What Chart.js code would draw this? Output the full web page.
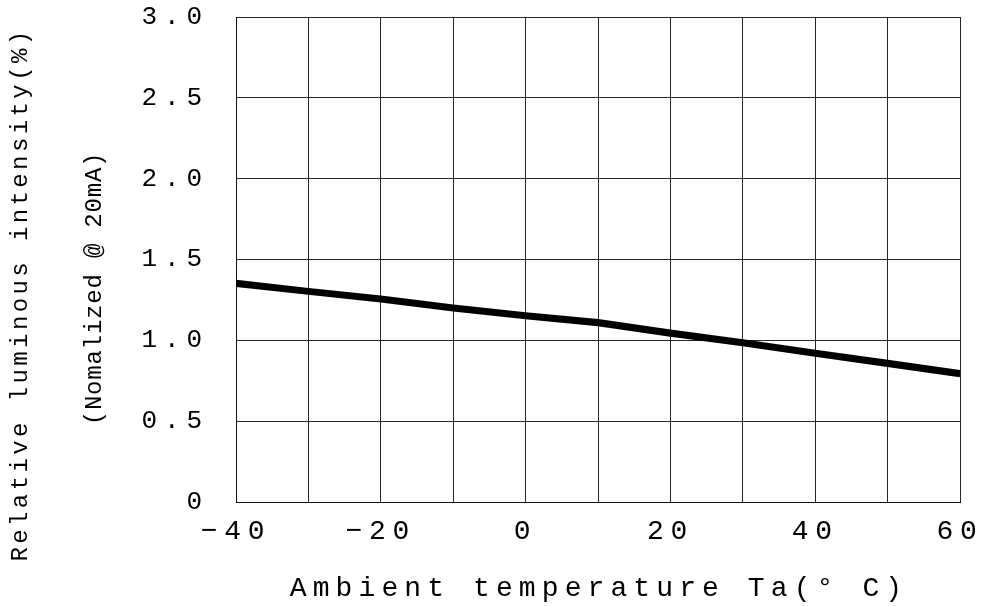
<!DOCTYPE html>
<html>
<head>
<meta charset="utf-8">
<script src="https://cdn.jsdelivr.net/npm/chart.js@4/dist/chart.umd.min.js"></script>
<style>
html,body{margin:0;padding:0;background:#fff;}
#wrap{width:982px;height:606px;}
</style>
</head>
<body>
<div id="wrap"><canvas id="c" width="982" height="606"></canvas></div>
<script>
// ---- data ----
const temperatures = [-40, -30, -20, -10, 0, 10, 20, 30, 40, 50, 60];
const intensityUpper = [1.362, 1.312, 1.265, 1.210, 1.162, 1.120, 1.055, 0.995, 0.930, 0.868, 0.804];
const intensityLower = [1.342, 1.294, 1.247, 1.190, 1.142, 1.100, 1.035, 0.975, 0.910, 0.848, 0.784];

const xTickValues = [-40, -20, 0, 20, 40, 60];
const xTickLabels = ['\u221240', '\u221220', '0', '20', '40', '60'];
const yTickValues = [0, 0.5, 1, 1.5, 2, 2.5, 3];
const yTickLabels = ['0', '0.5', '1.0', '1.5', '2.0', '2.5', '3.0'];

const xTitle = 'Ambient temperature Ta(\u00b0 C)';
const yTitle = 'Relative luminous intensity(%)';
const yTitleSub = '(Nomalized @ 20mA)';

// ---- text spacing helper (letter spacing + small offsets per scale part) ----
const textTweaks = {
  x:  { drawLabels: { ls: '6.7px' }, drawTitle: { ls: '6.1px', dx: 1, dy: 0 } },
  y:  { drawLabels: { ls: '6.9px' }, drawTitle: { ls: '0.8px', dx: 0, dy: 29 } },
  y2: { drawTitle: { ls: '3.4px', dx: 0, dy: 35 } }
};
function patchScale(scale, method, cfg) {
  const key = '__patched_' + method;
  if (!scale || scale[key]) return;
  const orig = scale[method];
  scale[method] = function () {
    const ctx = this.ctx;
    ctx.save();
    ctx.letterSpacing = cfg.ls || '0px';
    ctx.translate(cfg.dx || 0, cfg.dy || 0);
    const r = orig.apply(this, arguments);
    ctx.restore();
    return r;
  };
  scale[key] = true;
}
const spacingPlugin = {
  id: 'spacing',
  beforeDraw(chart) {
    Object.keys(textTweaks).forEach(id => {
      const s = chart.scales[id];
      Object.keys(textTweaks[id]).forEach(m => patchScale(s, m, textTweaks[id][m]));
    });
  }
};
const bgPlugin = {
  id: 'bg',
  beforeDraw(chart) {
    const c = chart.ctx;
    c.save(); c.fillStyle = '#fff'; c.fillRect(0, 0, chart.width, chart.height); c.restore();
  }
};

const mono = "'Liberation Mono', 'DejaVu Sans Mono', monospace";
const gridColor = '#262626';

new Chart(document.getElementById('c'), {
  type: 'line',
  data: {
    labels: temperatures,
    datasets: [
      {
        data: temperatures.map((t, i) => ({ x: t, y: intensityUpper[i] })),
        borderColor: '#000', borderWidth: 4, pointRadius: 0, tension: 0, fill: false
      },
      {
        data: temperatures.map((t, i) => ({ x: t, y: intensityLower[i] })),
        borderColor: '#000', borderWidth: 4, pointRadius: 0, tension: 0, fill: false
      }
    ]
  },
  options: {
    responsive: false,
    animation: false,
    devicePixelRatio: 1,
    layout: { padding: { top: 17, right: 22, left: 0, bottom: 0 } },
    plugins: { legend: { display: false }, tooltip: { enabled: false } },
    scales: {
      x: {
        type: 'linear',
        min: -40, max: 60,
        afterFit: s => { s.height = 104; },
        ticks: {
          stepSize: 10,
          autoSkip: false,
          maxRotation: 0,
          padding: 0,
          color: '#000',
          font: { family: mono, size: 28 },
          callback: v => { const i = xTickValues.indexOf(v); return i >= 0 ? xTickLabels[i] : ''; }
        },
        grid: { color: gridColor, lineWidth: 1, drawTicks: true, tickLength: 13, tickColor: 'rgba(0,0,0,0)' },
        border: { color: '#111', width: 1 },
        title: {
          display: true, text: xTitle, color: '#000',
          font: { family: mono, size: 28, lineHeight: 1.2 },
          padding: { top: 0, bottom: 1 }
        }
      },
      y: {
        type: 'linear',
        position: 'left',
        weight: 0,
        min: 0, max: 3,
        afterFit: s => { s.width = 176; },
        ticks: {
          stepSize: 0.5,
          padding: 0,
          color: '#000',
          font: { family: mono, size: 26 },
          callback: v => { const i = yTickValues.findIndex(t => Math.abs(t - v) < 1e-9); return i >= 0 ? yTickLabels[i] : ''; }
        },
        grid: { color: gridColor, lineWidth: 1, drawTicks: true, tickLength: 27, tickColor: 'rgba(0,0,0,0)' },
        border: { color: '#111', width: 1 },
        title: {
          display: true, text: yTitleSub, color: '#000',
          font: { family: mono, size: 24, lineHeight: 1.2 },
          padding: { top: 20, bottom: 0 }
        }
      },
      y2: {
        type: 'linear',
        position: 'left',
        weight: 1,
        min: 0, max: 3,
        afterFit: s => { s.width = 60; },
        ticks: { display: false },
        grid: { display: false, drawTicks: false },
        border: { display: false },
        title: {
          display: true, text: yTitle, color: '#000',
          font: { family: mono, size: 24, lineHeight: 1.2 },
          padding: { top: 6, bottom: 0 }
        }
      }
    }
  },
  plugins: [bgPlugin, spacingPlugin]
});
</script>
</body>
</html>
